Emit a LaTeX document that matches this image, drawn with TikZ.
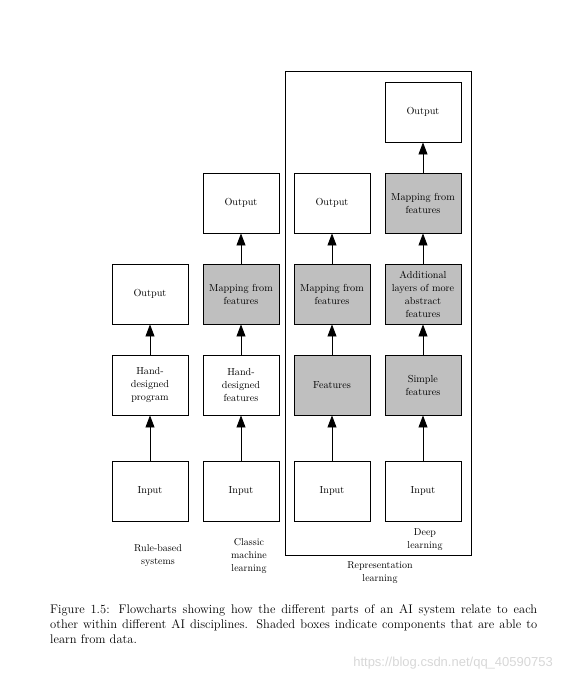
\documentclass[tikz,border=0pt]{standalone}
\usepackage{fontspec}
\newfontfamily\wmfont{Liberation Sans}
\usetikzlibrary{arrows.meta}
\definecolor{learnfill}{RGB}{191,191,191}
\definecolor{wmgray}{RGB}{215,215,215}
\begin{document}
\begin{tikzpicture}[x=1pt,y=-1pt,
  blk/.style={draw=black,line width=0.9pt,minimum width=76pt,minimum height=60pt,inner sep=0pt,align=center,font=\fontsize{10.2}{13}\selectfont},
  lrn/.style={blk,fill=learnfill},
  arr/.style={line width=0.8pt,-{Triangle[width=9pt,length=12pt]}},
  lbl/.style={align=center,font=\fontsize{10}{13}\selectfont}]
\useasboundingbox (0,0) rectangle (563,682);
% frame for representation learning
\draw[line width=0.9pt] (285,71) rectangle (471,555);
% column 1: rule-based
\node[blk] (in1) at (150,491) {Input};
\node[blk] (hd1) at (150,385) {Hand-\\designed\\program};
\node[blk] (out1) at (150,294) {Output};
% column 2: classic ML
\node[blk] (in2) at (241,491) {Input};
\node[blk] (hd2) at (241,385) {Hand-\\designed\\features};
\node[lrn] (map2) at (241,294) {Mapping from\\features};
\node[blk] (out2) at (241,203) {Output};
% column 3: representation learning
\node[blk] (in3) at (332,491) {Input};
\node[lrn] (ft3) at (332,385) {Features};
\node[lrn] (map3) at (332,294) {Mapping from\\features};
\node[blk] (out3) at (332,203) {Output};
% column 4: deep learning
\node[blk] (in4) at (423,491) {Input};
\node[lrn] (sf4) at (423,385) {Simple\\features};
\node[lrn] (al4) at (423,294) {Additional\\layers of more\\abstract\\features};
\node[lrn] (map4) at (423,203) {Mapping from\\features};
\node[blk] (out4) at (423,112) {Output};
% arrows
\draw[arr] (in1) -- (hd1);
\draw[arr] (hd1) -- (out1);
\draw[arr] (in2) -- (hd2);
\draw[arr] (hd2) -- (map2);
\draw[arr] (map2) -- (out2);
\draw[arr] (in3) -- (ft3);
\draw[arr] (ft3) -- (map3);
\draw[arr] (map3) -- (out3);
\draw[arr] (in4) -- (sf4);
\draw[arr] (sf4) -- (al4);
\draw[arr] (al4) -- (map4);
\draw[arr] (map4) -- (out4);
% labels
\node[lbl] (l1) at (158,556) {Rule-based\\systems};
\node[lbl] (l2) at (249,556) {Classic\\machine\\learning};
\node[lbl] (l3) at (380,573) {Representation\\learning};
\node[lbl] (l4) at (425,540) {Deep\\learning};
% caption
\node[anchor=north west,align=left,inner sep=0pt,font=\fontsize{12.5}{15}\selectfont] (cap) at (50,604)
 {\hbox to 487pt{Figure 1.5: Flowcharts showing how the different parts of an AI system relate to each}\\
  \hbox to 487pt{other within different AI disciplines. Shaded boxes indicate components that are able to}\\
  learn from data.};
% watermark
\node[anchor=east,inner sep=0pt,text=wmgray,font=\wmfont\fontsize{13}{15}\selectfont] (wm) at (553,663) {https://blog.csdn.net/qq\_40590753};
\end{tikzpicture}
\end{document}
